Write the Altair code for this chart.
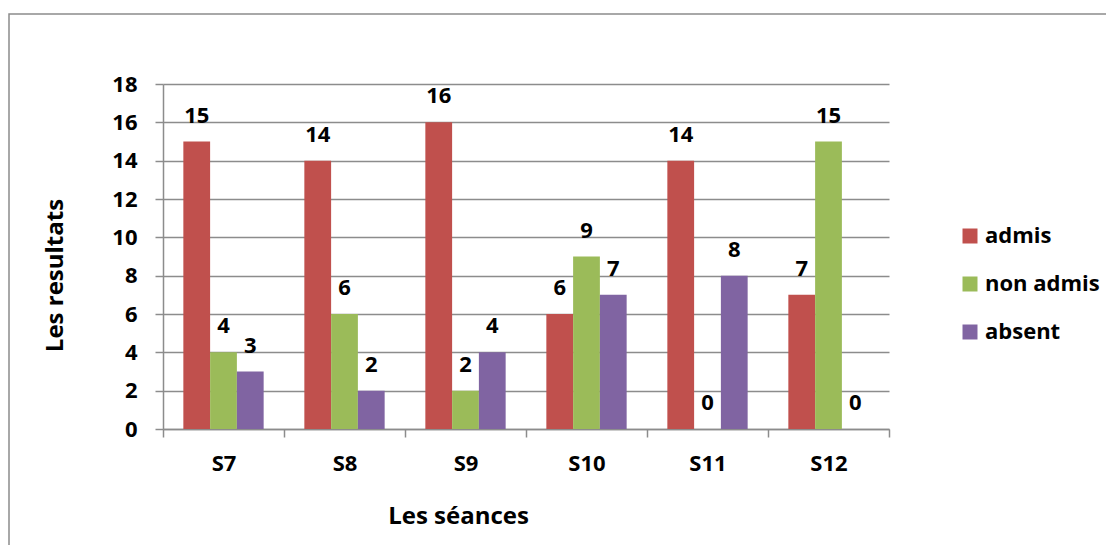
import altair as alt
import pandas as pd

# Session results per group
seances = ["S7", "S8", "S9", "S10", "S11", "S12"]
series = ["admis", "non admis", "absent"]
admis = [15, 14, 16, 6, 14, 7]
non_admis = [4, 6, 2, 9, 0, 15]
absent = [3, 2, 4, 7, 8, 0]
colors = ["#C0504D", "#9BBB59", "#8064A2"]
y_ticks = [0, 2, 4, 6, 8, 10, 12, 14, 16, 18]

rows = []
for name, vals in zip(series, [admis, non_admis, absent]):
    for s, v in zip(seances, vals):
        rows.append({"seance": s, "serie": name, "valeur": v})
df = pd.DataFrame(rows)

W, H = 726, 345
LEFT, TOP = 163, 84
FONT = "Open Sans"
FS = 22      # tick labels, value labels, legend
TFS = 24     # axis titles
GRAY = "#8C8C8C"

x_enc = alt.X(
    "seance:N",
    sort=seances,
    scale=alt.Scale(paddingInner=0, paddingOuter=0),
    axis=alt.Axis(
        title="Les séances",
        tickBand="extent",
        labelAngle=0,
        tickSize=8,
        labelPadding=16,
        titleX=295,
        titleY=94,
        titleAlign="center",
        titleBaseline="alphabetic",
    ),
)
xo_enc = alt.XOffset(
    "serie:N", sort=series, scale=alt.Scale(paddingInner=0, paddingOuter=0.76)
)
y_enc = alt.Y(
    "valeur:Q",
    scale=alt.Scale(domain=[0, 18], nice=False),
    axis=alt.Axis(
        title="Les resultats",
        values=y_ticks,
        grid=True,
        labelOverlap=False,
        tickSize=8,
        labelPadding=18,
        titleX=-108,
        titleY=191,
        titleAlign="center",
        titleBaseline="middle",
    ),
)

frame = (
    alt.Chart(pd.DataFrame({"k": [0]}))
    .mark_rect(filled=False, stroke=GRAY, strokeWidth=1.5)
    .encode(
        x=alt.value(9 - LEFT),
        x2=alt.value(1106 - LEFT + 20),
        y=alt.value(14 - TOP),
        y2=alt.value(545 - TOP + 20),
    )
)

bars = (
    alt.Chart(df)
    .mark_bar()
    .encode(
        x=x_enc,
        xOffset=xo_enc,
        y=y_enc,
        color=alt.Color(
            "serie:N",
            sort=series,
            scale=alt.Scale(domain=series, range=colors),
            legend=alt.Legend(
                title=None,
                orient="none",
                legendX=796,
                legendY=141,
                symbolType="square",
                symbolSize=225,
                symbolStrokeWidth=0,
                labelOffset=4,
                rowPadding=26,
                padding=0,
            ),
        ),
    )
)

labels = (
    alt.Chart(df)
    .mark_text(
        dy=-19,
        baseline="alphabetic",
        font=FONT,
        fontWeight="bold",
        fontSize=FS,
        color="black",
    )
    .encode(x=x_enc, xOffset=xo_enc, y=y_enc, text="valeur:Q")
)

chart = (
    alt.layer(frame, bars, labels)
    .properties(
        width=W,
        height=H,
        autosize="none",
        padding={"left": LEFT, "top": TOP, "right": 1106 - LEFT - W, "bottom": 545 - TOP - H},
        background="white",
    )
    .configure_view(strokeWidth=0)
    .configure_axis(
        domainColor=GRAY,
        domainWidth=1.5,
        tickColor=GRAY,
        tickWidth=1.5,
        gridColor=GRAY,
        gridWidth=1.5,
        labelFont=FONT,
        labelFontSize=FS,
        labelFontWeight="bold",
        labelColor="black",
        titleFont=FONT,
        titleFontSize=TFS,
        titleFontWeight="bold",
        titleColor="black",
    )
    .configure_axisX(grid=False)
    .configure_legend(
        labelFont=FONT,
        labelFontSize=FS,
        labelFontWeight="bold",
        labelColor="black",
    )
)

chart.save("out.html", embed_options={"renderer": "svg", "actions": False})
